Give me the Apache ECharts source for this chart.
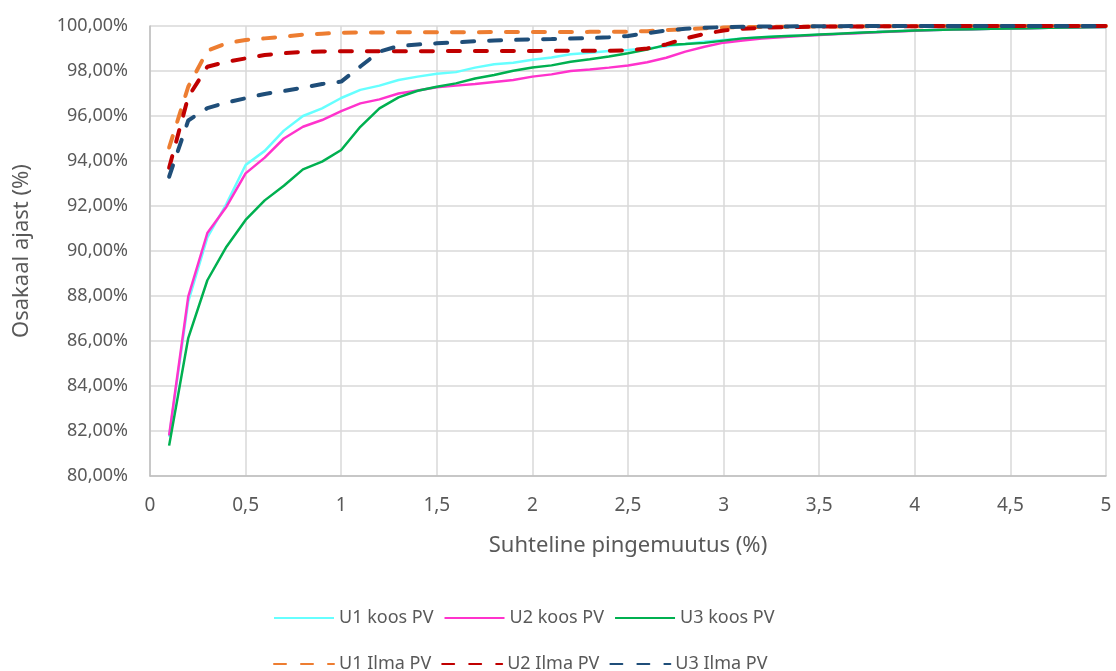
<!DOCTYPE html>
<html>
<head>
<meta charset="utf-8">
<title>Osakaal ajast</title>
<script src="https://cdn.jsdelivr.net/npm/echarts@6/dist/echarts.min.js"></script>
<style>
html, body { margin: 0; padding: 0; background: #fff; }
#main { width: 1116px; height: 671px; }
</style>
</head>
<body>
<div id="main"></div>
<script>
// suhteline pingemuutus (%)
var xs = [0.1, 0.2, 0.3, 0.4, 0.5, 0.6, 0.7, 0.8, 0.9, 1.0,
	1.1, 1.2, 1.3, 1.4, 1.5, 1.6, 1.7, 1.8, 1.9, 2.0,
	2.1, 2.2, 2.3, 2.4, 2.5, 2.6, 2.7, 2.8, 2.9, 3.0,
	3.1, 3.2, 3.3, 3.4, 3.5, 3.6, 3.7, 3.8, 3.9, 4.0,
	4.1, 4.2, 4.3, 4.4, 4.5, 4.6, 4.7, 4.8, 4.9, 5.0];

var names = ['U1 koos PV', 'U2 koos PV', 'U3 koos PV', 'U1 Ilma PV', 'U2 Ilma PV', 'U3 Ilma PV'];

var u1Koos = [81.75, 87.75, 90.6, 92.1, 93.82, 94.45, 95.35, 96.0, 96.34, 96.8,
	97.16, 97.35, 97.6, 97.75, 97.88, 97.95, 98.15, 98.3, 98.37, 98.5,
	98.6, 98.74, 98.81, 98.89, 98.93, 99.0, 99.1, 99.2, 99.3, 99.38,
	99.45, 99.5, 99.54, 99.57, 99.61, 99.65, 99.69, 99.73, 99.77, 99.8,
	99.82, 99.84, 99.86, 99.88, 99.89, 99.9, 99.92, 99.93, 99.94, 99.95];
var u2Koos = [81.8, 87.97, 90.8, 91.97, 93.45, 94.15, 95.0, 95.52, 95.82, 96.22,
	96.56, 96.74, 97.0, 97.13, 97.28, 97.35, 97.42, 97.51, 97.6, 97.75,
	97.85, 98.0, 98.07, 98.15, 98.24, 98.39, 98.59, 98.86, 99.08, 99.26,
	99.36, 99.44, 99.5, 99.55, 99.6, 99.64, 99.68, 99.72, 99.76, 99.79,
	99.82, 99.84, 99.86, 99.88, 99.89, 99.9, 99.92, 99.93, 99.94, 99.95];
var u3Koos = [81.35, 86.13, 88.7, 90.19, 91.38, 92.25, 92.9, 93.63, 93.97, 94.49,
	95.52, 96.34, 96.83, 97.12, 97.3, 97.45, 97.67, 97.82, 98.01, 98.16,
	98.25, 98.41, 98.52, 98.64, 98.79, 98.95, 99.16, 99.2, 99.25, 99.35,
	99.45, 99.5, 99.54, 99.58, 99.62, 99.66, 99.7, 99.73, 99.77, 99.8,
	99.82, 99.84, 99.86, 99.88, 99.89, 99.9, 99.92, 99.93, 99.94, 99.95];
var u1Ilma = [94.6, 97.3, 98.9, 99.23, 99.38, 99.45, 99.53, 99.62, 99.66, 99.7,
	99.71, 99.71, 99.72, 99.72, 99.72, 99.72, 99.72, 99.73, 99.73, 99.73,
	99.73, 99.73, 99.74, 99.74, 99.75, 99.77, 99.82, 99.86, 99.9, 99.93,
	99.95, 99.96, 99.97, 99.97, 99.98, 99.98, 99.98, 99.99, 99.99, 99.99,
	99.99, 100, 100, 100, 100, 100, 100, 100, 100, 100];
var u2Ilma = [93.7, 96.85, 98.19, 98.41, 98.56, 98.71, 98.79, 98.85, 98.87, 98.88,
	98.88, 98.88, 98.88, 98.88, 98.88, 98.89, 98.89, 98.89, 98.89, 98.89,
	98.9, 98.9, 98.9, 98.9, 98.92, 99.0, 99.18, 99.45, 99.65, 99.8,
	99.88, 99.92, 99.94, 99.96, 99.97, 99.98, 99.98, 99.99, 99.99, 99.99,
	100, 100, 100, 100, 100, 100, 100, 100, 100, 100];
var u3Ilma = [93.3, 95.8, 96.35, 96.6, 96.79, 96.98, 97.11, 97.26, 97.42, 97.53,
	98.2, 98.86, 99.11, 99.18, 99.23, 99.27, 99.32, 99.36, 99.38, 99.41,
	99.42, 99.44, 99.46, 99.5, 99.56, 99.68, 99.8, 99.88, 99.92, 99.95,
	99.97, 99.98, 99.98, 99.99, 99.99, 99.99, 100, 100, 100, 100,
	100, 100, 100, 100, 100, 100, 100, 100, 100, 100];

var colors = ['#66FFFF', '#FF33CC', '#00B050', '#ED7D31', '#C00000', '#1F4E79'];
var allData = [u1Koos, u2Koos, u3Koos, u1Ilma, u2Ilma, u3Ilma];

var textColor = '#595959';
var fontFam = '"Noto Sans", "Open Sans", sans-serif';

function pairs(vals) {
	var arr = [];
	for (var i = 0; i < xs.length; i++) {
		arr.push([xs[i], vals[i]]);
	}
	return arr;
}

var series = [];
for (var i = 0; i < names.length; i++) {
	var dashed = i >= 3;
	series.push({
		name: names[i],
		type: 'line',
		symbol: 'none',
		smooth: false,
		z: dashed ? 3 : 2,
		lineStyle: {
			color: colors[i],
			width: dashed ? 4 : 2.5,
			type: dashed ? [12, 15] : 'solid',
			cap: dashed ? 'round' : 'butt'
		},
		itemStyle: { color: colors[i] },
		data: pairs(allData[i])
	});
}

// kaks legendirida
var legendBase = {
	left: 268,
	itemWidth: 60,
	itemHeight: 12,
	itemGap: 10,
	itemStyle: { opacity: 0 },
	textStyle: { color: textColor, fontSize: 18, fontFamily: fontFam }
};

var myChart = echarts.init(document.getElementById('main'), null, { renderer: 'canvas' });
myChart.setOption({
	animation: false,
	backgroundColor: '#fff',
	color: colors,
	grid: { left: 150, right: 10, top: 26, bottom: 195 },
	legend: [
		Object.assign({}, legendBase, { top: 604, data: names.slice(0, 3) }),
		Object.assign({}, legendBase, { top: 650, data: names.slice(3) })
	],
	xAxis: {
		type: 'value',
		min: 0,
		max: 5,
		interval: 0.5,
		name: 'Suhteline pingemuutus (%)',
		nameLocation: 'middle',
		nameGap: 59,
		nameTextStyle: { color: textColor, fontSize: 22, fontFamily: fontFam },
		axisLine: { show: true, lineStyle: { color: '#bfbfbf', width: 1.5 } },
		axisTick: { show: false },
		splitLine: { show: true, lineStyle: { color: '#d9d9d9', width: 1.5 } },
		axisLabel: {
			color: textColor,
			fontSize: 19,
			fontFamily: fontFam,
			margin: 20,
			formatter: function(v) { return String(v).replace('.', ','); }
		}
	},
	yAxis: {
		type: 'value',
		min: 80,
		max: 100,
		interval: 2,
		name: 'Osakaal ajast (%)',
		nameLocation: 'middle',
		nameGap: 117,
		nameTextStyle: { color: textColor, fontSize: 22, fontFamily: fontFam },
		axisLine: { show: true, lineStyle: { color: '#bfbfbf', width: 1.5 } },
		axisTick: { show: false },
		splitLine: { show: true, lineStyle: { color: '#d9d9d9', width: 1.5 } },
		axisLabel: {
			color: textColor,
			fontSize: 18,
			fontFamily: fontFam,
			margin: 22,
			formatter: function(v) { return v.toFixed(2).replace('.', ',') + '%'; }
		}
	},
	series: series
});
</script>
</body>
</html>
